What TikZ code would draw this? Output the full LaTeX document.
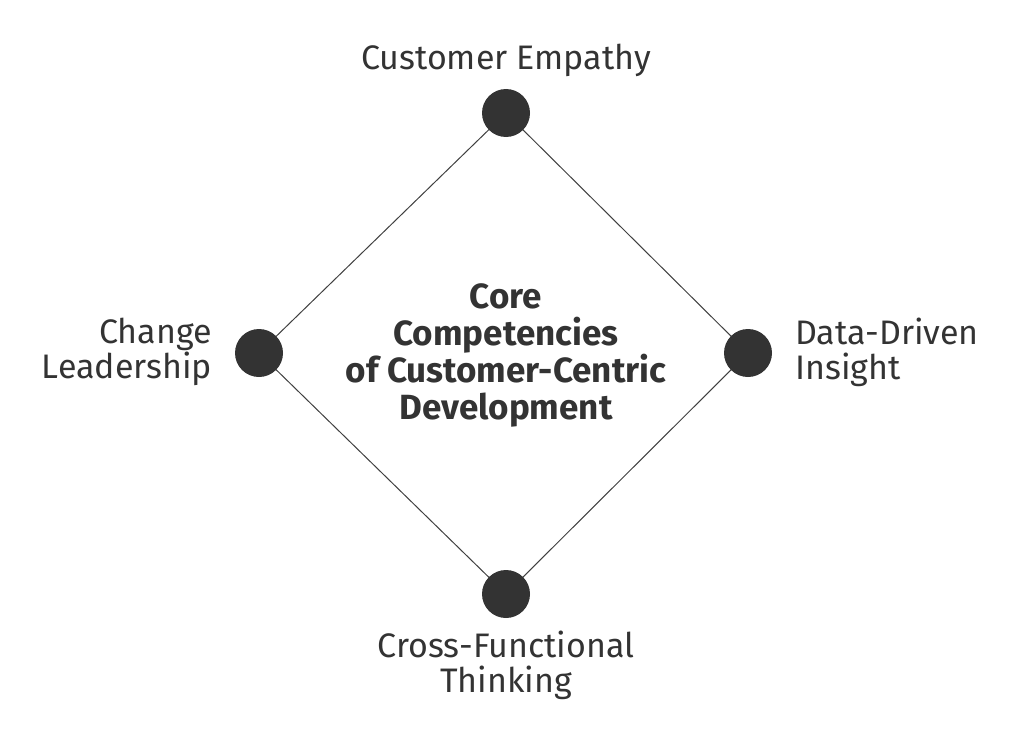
\documentclass[tikz,border=0pt]{standalone}
\usepackage{fontspec}
\usetikzlibrary{shadings}
\setmainfont{Fira Sans}
\begin{document}
\begin{tikzpicture}[x=1pt,y=-1pt,
  dot/.style={circle,fill=black!80,minimum size=48pt,inner sep=0pt},
  lab/.style={text=black!80,font=\fontsize{34}{35}\selectfont,inner sep=0pt,align=#1},
  lab/.default=center]
\useasboundingbox (0,0) rectangle (1024,741);
\coordinate (T) at (506,113);
\coordinate (L) at (259,353);
\coordinate (R) at (748,353);
\coordinate (B) at (506,594);
\begin{scope}[y=1pt]
\shade[upper left=black!40,upper right=black!12,lower left=black!12,lower right=white] (506,628)--(748,388)--(506,147)--(259,388)--cycle;
\end{scope}
\draw[black!75,line width=1pt] (T)--(R)--(B)--(L)--cycle;
\node[dot] (t) at (T) {};
\node[dot] (l) at (L) {};
\node[dot] (r) at (R) {};
\node[dot] (b) at (B) {};
\node[lab] (tl) at (506,60) {Customer Empathy};
\node[lab=right,anchor=east] (ll) at (212,352) {Change\\Leadership};
\node[lab=left,anchor=west] (rl) at (795,352) {Data-Driven\\Insight};
\node[lab] (bl) at (506,665) {Cross-Functional\\Thinking};
\node[text=black!80,font=\bfseries\fontsize{35}{37}\selectfont,align=center,inner sep=0pt] (c) at (506,355) {Core\\Competencies\\of Customer-Centric\\Development};
\end{tikzpicture}
\end{document}
